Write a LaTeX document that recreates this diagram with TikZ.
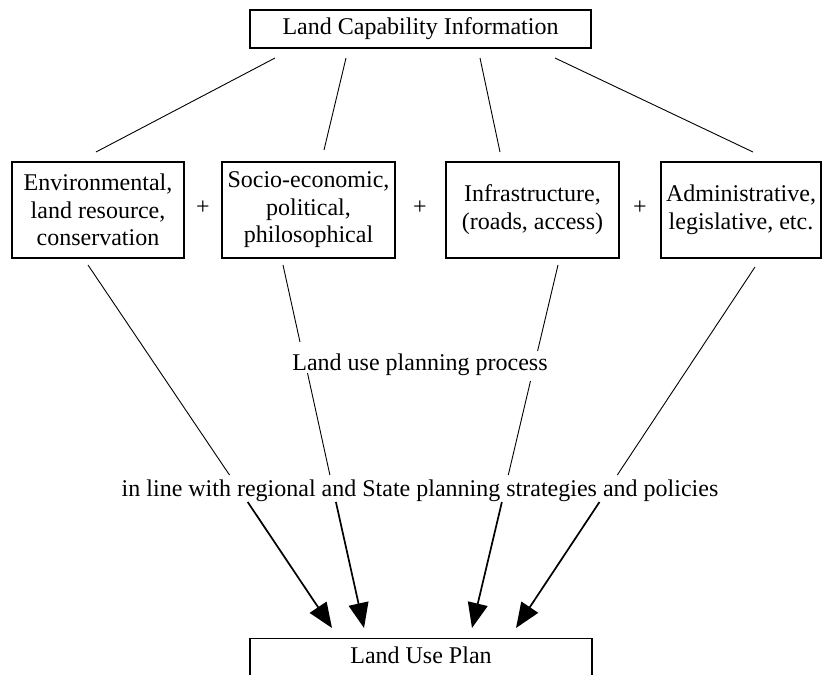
\documentclass[tikz,border=0pt]{standalone}
\usepackage{fontspec}
\setmainfont{Liberation Serif}
\usetikzlibrary{arrows.meta}
\begin{document}
\begin{tikzpicture}[x=1pt,y=-1pt,
  txt/.style={font=\fontsize{24}{27.5}\selectfont},
  box/.style={txt,draw,line width=1.3pt,align=center,inner sep=0pt},
  lbl/.style={txt,inner sep=0pt,anchor=base},
  thinline/.style={line width=0.9pt},
  arr/.style={line width=1.7pt,-{Triangle[length=25pt,width=20pt]}}]
\useasboundingbox (0,0) rectangle (823,675);

% boxes
\node[box,minimum width=341pt,minimum height=38pt] (lci) at (420.5,29) {Land Capability Information};
\node[box,minimum width=172pt,minimum height=96pt] (e1) at (98,210) {Environmental,\\land resource,\\conservation};
\node[box,minimum width=173pt,minimum height=96pt] (e2) at (308.5,210) {Socio-economic,\\political,\\philosophical};
\node[box,minimum width=173pt,minimum height=96pt] (e3) at (532.5,210) {\raisebox{5pt}{\begin{tabular}{@{}c@{}}Infrastructure,\\(roads, access)\end{tabular}}};
\node[box,minimum width=160pt,minimum height=96pt] (e4) at (741,210) {\raisebox{5pt}{\begin{tabular}{@{}c@{}}Administrative,\\legislative, etc.\end{tabular}}};
\node[box,minimum width=342pt,inner ysep=8pt,text height=17pt,text depth=45pt,anchor=north] (lup) at (421,638) {Land Use Plan};

% plus signs
\node[txt,inner sep=0pt] (p1) at (203,208) {+};
\node[txt,inner sep=0pt] (p2) at (420,208) {+};
\node[txt,inner sep=0pt] (p3) at (640,208) {+};

% labels
\node[lbl] (proc) at (420,370) {Land use planning process};
\node[lbl] (pol) at (420,496) {in line with regional and State planning strategies and policies};

% top connectors
\coordinate (a1) at (275,58);  \coordinate (b1) at (96,152);
\coordinate (a2) at (346,58);  \coordinate (b2) at (324,150);
\coordinate (a3) at (480,58);  \coordinate (b3) at (500,152);
\coordinate (a4) at (555,58);  \coordinate (b4) at (753,152);
\draw[thinline] (a1) -- (b1);
\draw[thinline] (a2) -- (b2);
\draw[thinline] (a3) -- (b3);
\draw[thinline] (a4) -- (b4);

% lower connectors
\coordinate (s1) at (88,265);   \coordinate (m1) at (229.5,475); \coordinate (r1) at (247.7,502); \coordinate (t1) at (332,628);
\coordinate (s2) at (283,265);  \coordinate (u2) at (300,342);   \coordinate (v2) at (307.5,373);
\coordinate (m2) at (329.9,475); \coordinate (r2) at (335.9,502); \coordinate (t2) at (364,628);
\coordinate (s3) at (558,265);  \coordinate (u3) at (537.6,351);  \coordinate (v3) at (530.5,381);
\coordinate (m3) at (508.3,475); \coordinate (r3) at (501.9,502); \coordinate (t3) at (472,628);
\coordinate (s4) at (755,267);  \coordinate (m4) at (617.3,475); \coordinate (r4) at (599.5,502); \coordinate (t4) at (516,628);

\draw[thinline] (s1) -- (m1);
\draw[thinline] (s2) -- (u2);
\draw[thinline] (v2) -- (m2);
\draw[thinline] (s3) -- (u3);
\draw[thinline] (v3) -- (m3);
\draw[thinline] (s4) -- (m4);

\draw[arr] (r1) -- (t1);
\draw[arr] (r2) -- (t2);
\draw[arr] (r3) -- (t3);
\draw[arr] (r4) -- (t4);
\end{tikzpicture}
\end{document}
